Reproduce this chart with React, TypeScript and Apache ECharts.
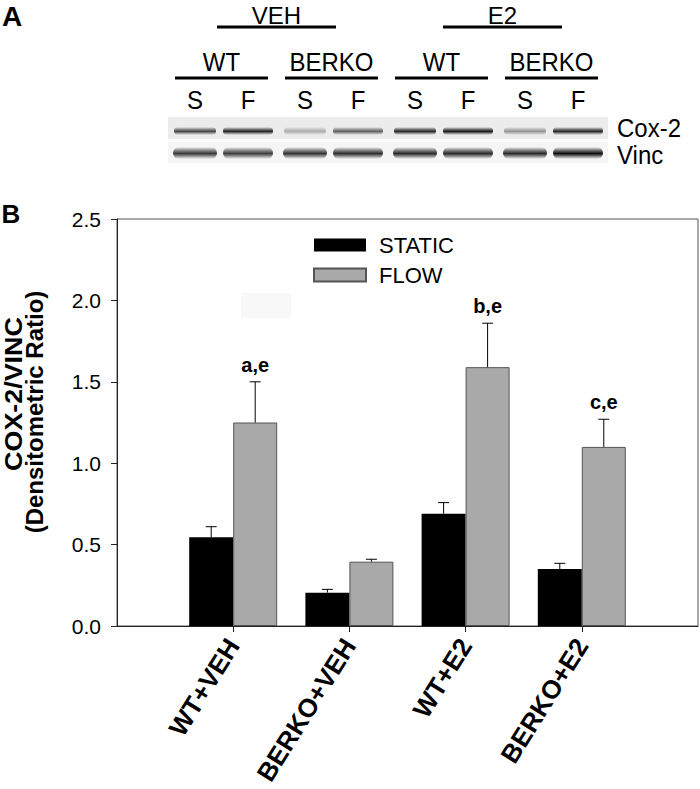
import React, { useEffect, useRef } from 'react';
import * as echarts from 'echarts';

// ---- Panel B data ----
const categories = ['WT+VEH', 'BERKO+VEH', 'WT+E2', 'BERKO+E2'];
const seriesNames = ['STATIC', 'FLOW'];
const staticMean = [0.545, 0.205, 0.69, 0.35];
const staticErr = [0.065, 0.02, 0.068, 0.035];
const flowMean = [1.25, 0.395, 1.59, 1.1];
const flowErr = [0.25, 0.015, 0.27, 0.17];
const flowAnnot = ['a,e', '', 'b,e', 'c,e'];
const staticAnnot = ['', '', '', ''];
const yMin = 0;
const yMax = 2.5;
const yInterval = 0.5;
const yTitle = ['COX-2/VINC', '(Densitometric Ratio)'];

// ---- Panel A (blot) data ----
const blotTreatments = ['VEH', 'E2'];
const blotGenotypes = ['WT', 'BERKO', 'WT', 'BERKO'];
const blotLanes = ['S', 'F', 'S', 'F', 'S', 'F', 'S', 'F'];
const blotProteins = ['Cox-2', 'Vinc'];
const cox2Density = [0.72, 0.86, 0.32, 0.62, 0.85, 0.9, 0.42, 0.85];
const vincDensity = [0.78, 0.76, 0.8, 0.82, 0.84, 0.84, 0.84, 0.95];

const FONT = '"Liberation Sans", Arial, Helvetica, sans-serif';
const BAR_W = 44;

function errorSeries(name: string, means: number[], errs: number[], annots: string[], offset: number) {
  return {
    type: 'custom',
    name: name + '-err',
    z: 5,
    silent: true,
    data: means.map((m, i) => [i + 1, m, m + errs[i]]),
    encode: { x: 0, y: [1, 2] },
    renderItem: (params: any, api: any) => {
      const base = api.coord([api.value(0), api.value(1)]);
      const top = api.coord([api.value(0), api.value(2)]);
      const x = base[0] + offset;
      const children: any[] = [
        { type: 'line', shape: { x1: x, y1: base[1], x2: x, y2: top[1] }, style: { stroke: '#000', lineWidth: 1 } },
        { type: 'line', shape: { x1: x - 5.5, y1: top[1], x2: x + 5.5, y2: top[1] }, style: { stroke: '#000', lineWidth: 1 } },
      ];
      const t = annots[params.dataIndex];
      if (t) {
        children.push({
          type: 'text',
          x: x,
          y: top[1] - 7,
          style: { text: t, fontFamily: FONT, fontSize: 20, fontWeight: 'bold', fill: '#000', align: 'center', verticalAlign: 'bottom' },
        });
      }
      return { type: 'group', children };
    },
  };
}

function band(x: number, y: number, w: number, h: number, d: number) {
  const g = Math.round(255 * (1 - d));
  const c = (a: number) => `rgba(${g},${g},${g},${a})`;
  return {
    type: 'rect',
    shape: { x: x - w / 2, y: y - h / 2, width: w, height: h, r: h / 2 },
    style: {
      fill: new echarts.graphic.LinearGradient(0, 0, 0, 1, [
        { offset: 0, color: c(0) },
        { offset: 0.3, color: c(0.6) },
        { offset: 0.55, color: c(1) },
        { offset: 1, color: c(0) },
      ]),
    },
    silent: true,
  };
}

function buildGraphics() {
  const els: any[] = [];
  const txt = (x: number, y: number, text: string, size: number, opts: any = {}) => ({
    type: 'text',
    x,
    y,
    rotation: opts.rotation || 0,
    scaleX: opts.scaleX || 1,
    scaleY: opts.scaleY || 1,
    silent: true,
    style: {
      text,
      fontFamily: FONT,
      fontSize: size,
      fontWeight: opts.bold ? 'bold' : 'normal',
      fill: '#000',
      align: opts.align || 'center',
      verticalAlign: 'middle',
    },
  });
  const hline = (x1: number, x2: number, y: number, w: number) => ({
    type: 'line',
    silent: true,
    shape: { x1, y1: y, x2, y2: y },
    style: { stroke: '#000', lineWidth: w },
  });

  // panel letters
  els.push(txt(12, 16, 'A', 28, { bold: true }));
  els.push(txt(11, 214, 'B', 26, { bold: true }));

  // blot layout
  const genoCenter = (g: number) => 221.5 + 110 * g;
  const laneX = (i: number) => genoCenter(Math.floor(i / 2)) + (i % 2 === 0 ? -26.5 : 26.5);
  const sy = 1.1;

  blotTreatments.forEach((t, k) => {
    const cx = (genoCenter(2 * k) + genoCenter(2 * k + 1)) / 2 + (k === 1 ? 6 : 0);
    els.push(txt(cx, 15, t, 24));
    els.push(hline(cx - 59.5, cx + 59.5, 27, 3));
  });
  blotGenotypes.forEach((g, k) => {
    const cx = genoCenter(k);
    els.push(txt(cx, 62, g, 24, { scaleY: sy }));
    els.push(hline(cx - 46.5, cx + 46.5, 78, 3));
  });
  blotLanes.forEach((l, i) => {
    els.push(txt(laneX(i), 100, l, 24, { scaleY: sy }));
  });

  // blot strips
  els.push({ type: 'rect', silent: true, shape: { x: 168, y: 117, width: 440, height: 22 }, style: { fill: '#ececec' } });
  els.push({ type: 'rect', silent: true, shape: { x: 168, y: 142, width: 440, height: 21 }, style: { fill: '#f5f5f5' } });
  cox2Density.forEach((d, i) => {
    els.push(band(laneX(i), 131, i % 2 === 0 ? 42 : 50, 8, d));
  });
  vincDensity.forEach((d, i) => {
    els.push(band(laneX(i), 153, i % 2 === 0 ? 44 : 50, 12, d));
  });
  els.push(txt(617, 128, blotProteins[0], 24, { align: 'left', scaleY: sy }));
  els.push(txt(617, 155, blotProteins[1], 24, { align: 'left', scaleY: sy }));

  // faint artifact in plot
  els.push({ type: 'rect', silent: true, z: -1, shape: { x: 241, y: 293, width: 50, height: 25 }, style: { fill: '#f8f8f8' } });

  // y-axis title
  els.push(txt(14, 394, yTitle[0], 24, { bold: true, rotation: Math.PI / 2, scaleX: 1.12 }));
  els.push(txt(34, 412, yTitle[1], 24, { bold: true, rotation: Math.PI / 2 }));

  return els;
}

export default function App() {
  const ref = useRef<HTMLDivElement>(null);
  useEffect(() => {
    if (!ref.current) return;
    const chart = echarts.init(ref.current, null, { renderer: 'svg' });
    const axisData = ['', ...categories, ''];
    chart.setOption({
      animation: false,
      backgroundColor: '#fff',
      textStyle: { fontFamily: FONT },
      grid: { left: 117, right: 2, top: 219, bottom: 163, show: true, borderColor: '#555', borderWidth: 1 },
      legend: {
        data: seriesNames,
        orient: 'vertical',
        left: 313,
        top: 234,
        itemWidth: 52,
        itemHeight: 13,
        itemGap: 8,
        icon: 'rect',
        padding: 0,
        textStyle: { fontFamily: FONT, fontSize: 22, lineHeight: 20, color: '#000', padding: [0, 0, 0, 8] },
      },
      xAxis: {
        type: 'category',
        data: axisData,
        boundaryGap: false,
        axisLine: { lineStyle: { color: '#222', width: 1 } },
        axisTick: { show: true, length: 6, interval: (idx: number, v: string) => v !== '', lineStyle: { color: '#222' } },
        axisLabel: { interval: 0, rotate: 58, margin: 15, fontFamily: FONT, fontSize: 26, fontWeight: 'bold', color: '#000' },
        splitLine: { show: false },
      },
      yAxis: {
        type: 'value',
        min: yMin,
        max: yMax,
        interval: yInterval,
        axisLine: { show: true, lineStyle: { color: '#222', width: 1 } },
        axisTick: { show: true, length: 6, lineStyle: { color: '#222' } },
        axisLabel: { formatter: (v: number) => v.toFixed(1), margin: 16, fontFamily: FONT, fontSize: 21, color: '#000' },
        splitLine: { show: false },
      },
      series: [
        {
          type: 'bar',
          name: seriesNames[0],
          data: [null, ...staticMean, null],
          barWidth: BAR_W,
          barGap: '0%',
          itemStyle: { color: '#000' },
        },
        {
          type: 'bar',
          name: seriesNames[1],
          data: [null, ...flowMean, null],
          barWidth: BAR_W,
          barGap: '0%',
          itemStyle: { color: '#a9a9a9', borderColor: '#555', borderWidth: 1 },
        },
        errorSeries(seriesNames[0], staticMean, staticErr, staticAnnot, -BAR_W / 2),
        errorSeries(seriesNames[1], flowMean, flowErr, flowAnnot, BAR_W / 2),
      ],
      graphic: buildGraphics(),
    });
    return () => chart.dispose();
  }, []);
  return <div ref={ref} style={{ position: 'absolute', left: 0, top: 0, width: 700, height: 789 }} />;
}
